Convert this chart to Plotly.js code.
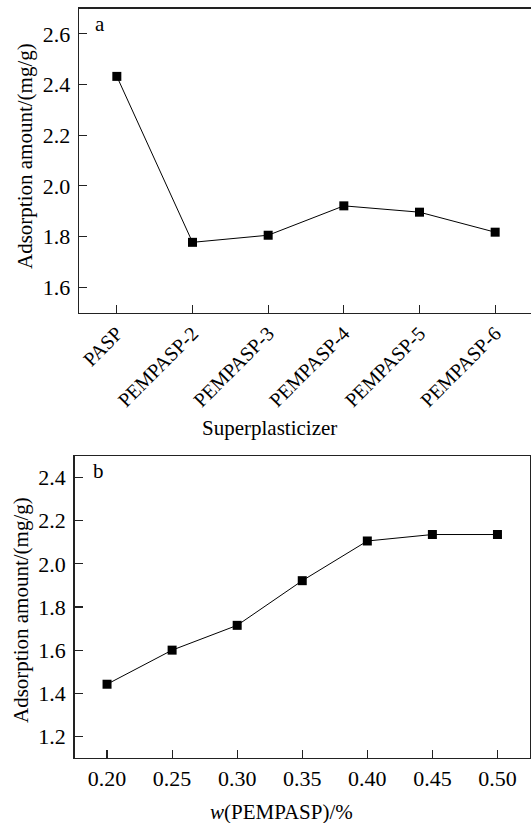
<!DOCTYPE html>
<html>
<head>
<meta charset="utf-8">
<script src="https://cdn.plot.ly/plotly-3.0.1.min.js"></script>
<style>
html,body{margin:0;padding:0;overflow:hidden;background:#fff;}
#chart{width:540px;height:823px;}
</style>
</head>
<body>
<div id="chart"></div>
<script>
// Panel a
const superplasticizers = ["PASP", "PEMPASP-2", "PEMPASP-3", "PEMPASP-4", "PEMPASP-5", "PEMPASP-6"];
const adsorptionA = [2.432, 1.777, 1.805, 1.921, 1.896, 1.817];
const yTicksA = [1.6, 1.8, 2.0, 2.2, 2.4, 2.6];
const yTickTextA = ["1.6", "1.8", "2.0", "2.2", "2.4", "2.6"];
// Panel b
const dosage = [0.20, 0.25, 0.30, 0.35, 0.40, 0.45, 0.50];
const adsorptionB = [1.442, 1.600, 1.715, 1.922, 2.106, 2.136, 2.136];
const dosageTicks = ["0.20", "0.25", "0.30", "0.35", "0.40", "0.45", "0.50"];
const yTicksB = [1.2, 1.4, 1.6, 1.8, 2.0, 2.2, 2.4];
const yTickTextB = ["1.2", "1.4", "1.6", "1.8", "2.0", "2.2", "2.4"];

const W = 540, H = 823;
const px = (x) => x / W;
const py = (y) => 1 - y / H;
const FONT = "'Liberation Serif', 'Times New Roman', serif";
const FS = 21;
const TFS = 22;

const common = {
  showline: true, linecolor: "#222", linewidth: 1.4,
  ticks: "inside", ticklen: 8, tickwidth: 1.2, tickcolor: "#222",
  showgrid: false, zeroline: false,
  tickfont: {family: FONT, size: TFS, color: "#000"}
};

const traces = [
  {x: superplasticizers, y: adsorptionA, xaxis: "x", yaxis: "y", type: "scatter", mode: "lines+markers",
   line: {color: "#000", width: 1}, marker: {symbol: "square", size: 9, color: "#000"},
   cliponaxis: false, showlegend: false},
  {x: dosage, y: adsorptionB, xaxis: "x2", yaxis: "y2", type: "scatter", mode: "lines+markers",
   line: {color: "#000", width: 1}, marker: {symbol: "square", size: 9, color: "#000"},
   cliponaxis: false, showlegend: false}
];

function ann(text, x, y, angle) {
  return {text: text, x: px(x), y: py(y), xref: "paper", yref: "paper",
    xanchor: "center", yanchor: "middle", showarrow: false, textangle: angle || 0,
    font: {family: FONT, size: FS, color: "#000"}};
}

const layout = {
  width: W, height: H,
  margin: {l: 0, r: 0, t: 0, b: 0},
  paper_bgcolor: "#fff", plot_bgcolor: "#fff",
  font: {family: FONT, size: FS, color: "#000"},
  xaxis: Object.assign({}, common, {domain: [px(79), px(533)], anchor: "y", mirror: true,
    type: "category", range: [-0.5, 5.5], tickangle: -45,
    tickfont: {family: FONT, size: 20, color: "#000"}}),
  yaxis: Object.assign({}, common, {domain: [py(312.5), py(8.5)], anchor: "x", mirror: true,
    range: [1.5, 2.7], tickvals: yTicksA, ticktext: yTickTextA, ticklabelstandoff: 3}),
  xaxis2: Object.assign({}, common, {domain: [px(74.5), px(530)], anchor: "y2", mirror: true,
    range: [0.175, 0.525], tickvals: dosage, ticktext: dosageTicks}),
  yaxis2: Object.assign({}, common, {domain: [py(758), py(456)], anchor: "x2", mirror: true,
    range: [1.1, 2.5], tickvals: yTicksB, ticktext: yTickTextB, ticklabelstandoff: 3}),
  annotations: [
    ann("a", 100, 24),
    ann("b", 98, 471),
    ann("Superplasticizer", 269, 428),
    ann("<i>w</i>(PEMPASP)/%", 281, 812),
    ann("Adsorption amount/(mg/g)", 25, 156, -90),
    ann("Adsorption amount/(mg/g)", 21, 610, -90)
  ]
};

Plotly.newPlot("chart", traces, layout, {staticPlot: true, displayModeBar: false});
</script>
</body>
</html>
